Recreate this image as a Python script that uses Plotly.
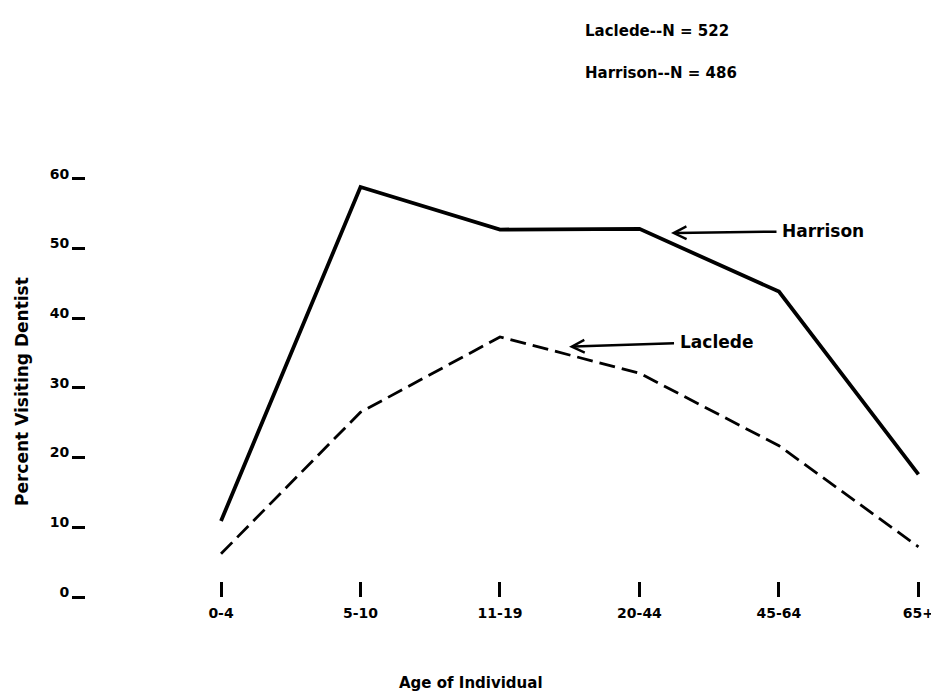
import plotly.graph_objects as go

age_groups = ["0-4", "5-10", "11-19", "20-44", "45-64", "65+"]
harrison = [10.9, 58.8, 52.7, 52.8, 43.8, 17.6]
laclede = [6.2, 26.5, 37.3, 32.1, 21.7, 7.2]
y_ticks = [0, 10, 20, 30, 40, 50, 60]
y_tick_text = ["0", "10", "20", "30", "40", "50", "60"]

FONT = "DejaVu Sans"
W, H = 939, 694
ML, MR, MT, MB = 78, 4, 140, 105
PW = W - ML - MR
PH = H - MT - MB


def px(xp):
    return (xp - ML) / PW


def py(yp):
    return (H - MB - yp) / PH


fig = go.Figure()
fig.add_trace(go.Scatter(
    x=age_groups, y=harrison, mode="lines", name="Harrison",
    line=dict(color="black", width=3.8), showlegend=False, cliponaxis=False,
))
fig.add_trace(go.Scatter(
    x=age_groups, y=laclede, mode="lines", name="Laclede",
    line=dict(color="black", width=2.8, dash="16px,7px"), showlegend=False, cliponaxis=False,
))

font = dict(family=FONT, size=15, color="black", weight="bold")
lfont = dict(family=FONT, size=17, color="black", weight="bold")
tfont = dict(family=FONT, size=14, color="black", weight="bold")

annotations = [
    dict(text="Laclede--N = 522", xref="paper", yref="paper", x=px(575), y=py(23),
         xanchor="left", yanchor="middle", showarrow=False, font=font),
    dict(text="Harrison--N = 486", xref="paper", yref="paper", x=px(575), y=py(65),
         xanchor="left", yanchor="middle", showarrow=False, font=font),
    dict(text="Harrison", x=3.226, y=52.2, xref="x", yref="y",
         ax=152, ay=-2, showarrow=True, arrowhead=5, arrowwidth=2.5, arrowsize=1,
         arrowcolor="black", startstandoff=4, font=lfont),
    dict(text="Laclede", x=2.495, y=35.9, xref="x", yref="y",
         ax=147, ay=-5, showarrow=True, arrowhead=5, arrowwidth=2.5, arrowsize=1,
         arrowcolor="black", startstandoff=4, font=lfont),
    dict(text="Percent Visiting Dentist", xref="paper", yref="paper", x=px(14), y=py(384),
         textangle=-90, xanchor="center", yanchor="middle", showarrow=False, font=lfont),
    dict(text="Age of Individual", xref="paper", yref="paper", x=px(463), y=py(675),
         xanchor="center", yanchor="middle", showarrow=False,
         font=dict(family=FONT, size=15, color="black", weight="bold")),
]

fig.update_layout(
    width=W, height=H,
    margin=dict(l=ML, r=MR, t=MT, b=MB, pad=0),
    paper_bgcolor="white", plot_bgcolor="white",
    annotations=annotations,
    font=font,
)
fig.update_xaxes(
    type="category", range=[-0.968, 5.176], showgrid=False, zeroline=False, showline=False,
    ticks="inside", ticklen=15, tickwidth=2.5, tickcolor="black",
    tickfont=tfont, ticklabelstandoff=6, automargin=False,
)
fig.update_yaxes(
    range=[0, 64.4], tickvals=y_ticks, ticktext=y_tick_text,
    showgrid=False, zeroline=False, showline=False,
    ticks="outside", ticklen=13, tickwidth=2.5, tickcolor="black",
    tickfont=tfont, ticklabelshift=-5, ticklabelstandoff=0, automargin=False,
)

fig.write_html("out.html")
